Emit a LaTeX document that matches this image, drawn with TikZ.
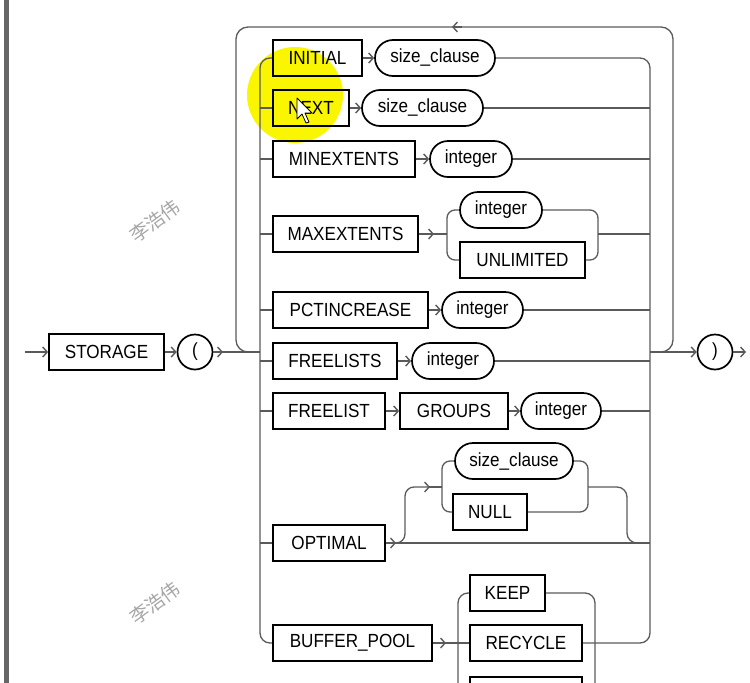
\documentclass[tikz,border=0pt]{standalone}
\usepackage{fontspec}
\setmainfont{Liberation Sans}
\newfontfamily\kwf[FakeStretch=0.9]{Liberation Sans}
\newfontfamily\cjk{Noto Sans CJK SC}
\usetikzlibrary{arrows.meta,shapes.misc}
\definecolor{hl}{RGB}{250,245,0}
\definecolor{ln}{RGB}{90,90,90}
\begin{document}
\begin{tikzpicture}[x=1pt,y=-1pt,
  kw/.style={draw=black, line width=1.7pt, minimum height=36pt, inner sep=0pt, font=\kwf\fontsize{19}{19}\selectfont},
  nt/.style={draw=black, line width=1.7pt, rounded rectangle, minimum height=36pt, inner sep=0pt, font=\kwf\fontsize{19}{19}\selectfont},
  sym/.style={draw=black, line width=1.7pt, circle, minimum size=35pt, inner sep=0pt, font=\kwf\fontsize{19}{19}\selectfont},
  conn/.style={draw=ln, line width=1.3pt},
  arr/.style={conn, -{Straight Barb[length=4.5pt,width=10pt,line width=1.4pt]}},
  rc/.style={rounded corners=10pt},
  wm/.style={rotate=36, text=black!35, font=\cjk\fontsize{19}{19}\selectfont}]
\useasboundingbox (0,0) rectangle (750,683);
% window border
\fill[black!60] (4,0) rectangle (9,683);
% watermarks
\node[wm] (wm1) at (155,221) {李浩伟};
\node[wm] (wm2) at (155,603) {李浩伟};
% highlight
\fill[hl] (295,95) circle (48);

% nodes
\node[kw, minimum width=115] (storage) at (106.5,352) {STORAGE};
\node[sym] (lpar) at (195,352) {(};
\node[sym] (rpar) at (715,352) {)};

\node[kw, minimum width=89]  (initial) at (317.5,58) {INITIAL};
\node[nt, minimum width=120] (sc1) at (435,58) {size\_clause};
\node[kw, minimum width=76]  (next) at (311,108) {NEXT};
\node[nt, minimum width=121] (sc2) at (422.5,108) {size\_clause};
\node[kw, minimum width=142] (minext) at (344,159) {MINEXTENTS};
\node[nt, minimum width=82]  (int3) at (471,159) {integer};
\node[kw, minimum width=145] (maxext) at (345.5,234) {MAXEXTENTS};
\node[nt, minimum width=82]  (int4) at (501,210) {integer};
\node[kw, minimum width=125] (unlim) at (522.5,260) {UNLIMITED};
\node[kw, minimum width=155] (pct) at (350.5,310) {PCTINCREASE};
\node[nt, minimum width=81]  (int5) at (482.5,310) {integer};
\node[kw, minimum width=124] (fls) at (335,361) {FREELISTS};
\node[nt, minimum width=82]  (int6) at (453,361) {integer};
\node[kw, minimum width=112] (fl) at (329,411) {FREELIST};
\node[kw, minimum width=108] (groups) at (454,411) {GROUPS};
\node[nt, minimum width=80]  (int7) at (561,411) {integer};
\node[kw, minimum width=112] (optimal) at (329,543) {OPTIMAL};
\node[nt, minimum width=118] (sc8) at (514,461) {size\_clause};
\node[kw, minimum width=74]  (null) at (490,512) {NULL};
\node[kw, minimum width=159] (bp) at (352.5,643) {BUFFER\_POOL};
\node[kw, minimum width=75]  (keep) at (507.5,593) {KEEP};
\node[kw, minimum width=112] (recycle) at (526,643) {RECYCLE};

% junction coordinates
\coordinate (in) at (25,352);
\coordinate (out) at (746,352);
\coordinate (lb) at (260,352);
\coordinate (rb) at (650,352);

% main line
\draw[arr] (in) -- (storage.west);
\draw[arr] (storage.east) -- (lpar.west);
\draw[arr] (lpar.east) -- (223,352);
\draw[conn] (221,352) -- (lb);
\draw[arr] (rb) -- (rpar.west);
\draw[arr] (rpar.east) -- (out);

% repeat loop
\draw[conn, rounded corners=12pt] (rb) -- (673,352) -- (673,27) -- (236,27) -- (236,352) -- (lb);
\draw[arr] (462,27) -- (452,27);

% left bus
\draw[conn, rc] (initial.west) -- (260,58) -- (260,643) -- (bp.west);
\foreach \n in {next,minext,maxext,pct,fls,fl,optimal}
  \draw[conn] (260,0 |- \n.west) -- (\n.west);
% right bus
\draw[conn, rc] (sc1.east) -- (650,58) -- (650,643) -- (recycle.east);
\foreach \n in {sc2,int3,int5,int6,int7}
  \draw[conn] (\n.east) -- (650,0 |- \n.east);

% rows
\draw[arr] (initial.east) -- (sc1.west);
\draw[arr] (next.east) -- (sc2.west);
\draw[arr] (minext.east) -- (int3.west);
\draw[arr] (maxext.east) -- (434,234);
\draw[conn] (432,234) -- (447,234);
\draw[conn, rounded corners=8pt] (int4.west) -- (447,210) -- (447,260) -- (unlim.west);
\draw[conn, rounded corners=8pt] (int4.east) -- (598,210) -- (598,260) -- (unlim.east);
\draw[conn] (598,234) -- (650,234);
\draw[arr] (pct.east) -- (int5.west);
\draw[arr] (fls.east) -- (int6.west);
\draw[arr] (fl.east) -- (groups.west);
\draw[arr] (groups.east) -- (int7.west);

% OPTIMAL
\draw[arr] (optimal.east) -- (396,543);
\draw[conn] (394,543) -- (650,543);
\draw[arr, rounded corners=9pt] (394,543) -- (405,543) -- (405,487) -- (430,487);
\draw[conn] (428,487) -- (442,487);
\draw[conn, rounded corners=8pt] (sc8.west) -- (442,461) -- (442,512) -- (null.west);
\draw[conn, rounded corners=8pt] (sc8.east) -- (588,461) -- (588,512) -- (null.east);
\draw[conn, rounded corners=10pt] (588,487) -- (627,487) -- (627,543) -- (642,543);

% BUFFER_POOL
\draw[arr] (bp.east) -- (446,643);
\draw[conn] (444,643) -- (recycle.west);
\draw[conn, rc] (keep.west) -- (458,593) -- (458,700);
\draw[conn, rc] (keep.east) -- (595,593) -- (595,700);
\draw[black, line width=1.7pt] (470,700) -- (470,677) -- (582,677) -- (582,700);

% cursor
\draw[fill=white, draw=black, line width=0.8pt, line join=round]
  (297,98) -- (297,119) -- (302,114) -- (306,123) -- (309,122) -- (305,113) -- (312,113) -- cycle;
\end{tikzpicture}
\end{document}
